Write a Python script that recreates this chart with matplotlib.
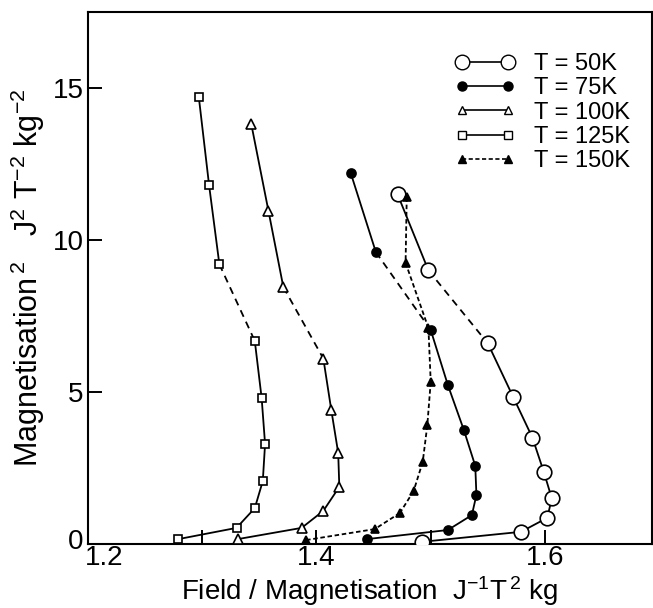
import numpy as np
import matplotlib
matplotlib.use('Agg')
import matplotlib.pyplot as plt
from matplotlib.lines import Line2D
from matplotlib.transforms import ScaledTranslation

plt.rcParams['font.family'] = ['Liberation Sans', 'DejaVu Sans']
plt.rcParams['mathtext.fontset'] = 'custom'
plt.rcParams['mathtext.rm'] = 'Liberation Sans'
plt.rcParams['mathtext.it'] = 'Liberation Sans'
plt.rcParams['mathtext.default'] = 'regular'

# data (x = field/magnetisation, y = magnetisation^2)
x_50 = [1.471, 1.498, 1.550, 1.572, 1.589, 1.599, 1.606, 1.602, 1.579, 1.492]
y_50 = [11.5, 9.0, 6.6, 4.85, 3.5, 2.37, 1.5, 0.86, 0.40, 0.07]
dash_50 = [1]          # index of segment (i -> i+1) drawn dashed

x_75 = [1.430, 1.452, 1.500, 1.515, 1.529, 1.539, 1.540, 1.536, 1.515, 1.444]
y_75 = [12.2, 9.6, 7.04, 5.23, 3.75, 2.57, 1.61, 0.95, 0.46, 0.16]
dash_75 = [1]

x_100 = [1.343, 1.358, 1.371, 1.406, 1.413, 1.419, 1.420, 1.406, 1.387, 1.331]
y_100 = [13.8, 10.95, 8.45, 6.1, 4.4, 3.0, 1.88, 1.09, 0.53, 0.16]
dash_100 = [2]

x_125 = [1.297, 1.306, 1.315, 1.346, 1.352, 1.355, 1.353, 1.346, 1.330, 1.279]
y_125 = [14.7, 11.8, 9.2, 6.68, 4.8, 3.29, 2.07, 1.18, 0.53, 0.16]
dash_125 = [2]

x_150 = [1.479, 1.478, 1.498, 1.500, 1.497, 1.493, 1.485, 1.473, 1.451, 1.391]
y_150 = [11.4, 9.25, 7.1, 5.33, 3.9, 2.7, 1.74, 1.02, 0.49, 0.13]

labels = ['T = 50K', 'T = 75K', 'T = 100K', 'T = 125K', 'T = 150K']

fig = plt.figure(figsize=(6.53, 6.08), dpi=100)
ax = fig.add_axes([88/653, 64/608, 564/653, 532/608])


def draw(xs, ys, dashed, marker, ms, face, base_ls='-'):
    for i in range(len(xs) - 1):
        ls = (0, (4, 3)) if i in dashed else base_ls
        ax.plot(xs[i:i+2], ys[i:i+2], color='k', lw=1.3, ls=ls, zorder=2)
    ax.plot(xs, ys, ls='none', marker=marker, ms=ms, mfc=face, mec='k',
            mew=1.2, zorder=3)


draw(x_50, y_50, dash_50, 'o', 10.5, 'white')
draw(x_75, y_75, dash_75, 'o', 6.5, 'k')
draw(x_100, y_100, dash_100, '^', 6.5, 'white')
draw(x_125, y_125, dash_125, 's', 6, 'white')
draw(x_150, y_150, [], '^', 6, 'k', base_ls=(0, (2.5, 1.5)))

ax.set_xlim(1.2, 1.6937)
ax.set_ylim(0, 17.5)
ax.set_xticks([1.2, 1.3, 1.4, 1.5, 1.6])
ax.set_xticklabels(['1.2', '', '1.4', '', '1.6'])
ax.set_yticks([0, 5, 10, 15])
ax.tick_params(direction='in', length=10, width=1.4, labelsize=20, pad=3)
ax.tick_params(axis='x', pad=1)
for s in ax.spines.values():
    s.set_linewidth(1.5)

# the 1.2 label sits just right of the corner, the 0 label a bit above it
lab12 = ax.get_xticklabels()[0]
lab12.set_horizontalalignment('left')
lab12.set_transform(lab12.get_transform() +
                    ScaledTranslation(-3/100, 0, fig.dpi_scale_trans))
lab0 = ax.get_yticklabels()[0]
lab0.set_transform(lab0.get_transform() +
                   ScaledTranslation(0, 5/100, fig.dpi_scale_trans))

ax.set_xlabel(r'Field / Magnetisation  J$^{-1}$T$^{\,2}$ kg', fontsize=20,
              labelpad=2)
ax.set_ylabel(r'Magnetisation$^{\,2}$   J$^{2}$ T$^{-2}$ kg$^{-2}$',
              fontsize=22, labelpad=4)

handles = [
    Line2D([], [], color='k', lw=1.2, marker='o', ms=10.5, mfc='white', mec='k'),
    Line2D([], [], color='k', lw=1.2, marker='o', ms=6.5, mfc='k', mec='k'),
    Line2D([], [], color='k', lw=1.2, marker='^', ms=6, mfc='white', mec='k'),
    Line2D([], [], color='k', lw=1.2, marker='s', ms=5.5, mfc='white', mec='k'),
    Line2D([], [], color='k', lw=1.2, ls=(0, (2.5, 1.5)), marker='^', ms=6,
           mfc='k', mec='k'),
]
ax.legend(handles, labels, numpoints=2, frameon=False, fontsize=17,
          handlelength=2.55, handletextpad=0.8, labelspacing=0.1,
          loc='upper left', bbox_to_anchor=(455/653, 1 - 53/608),
          bbox_transform=fig.transFigure, borderaxespad=0, borderpad=0)

fig.savefig('out.png', dpi=100)
